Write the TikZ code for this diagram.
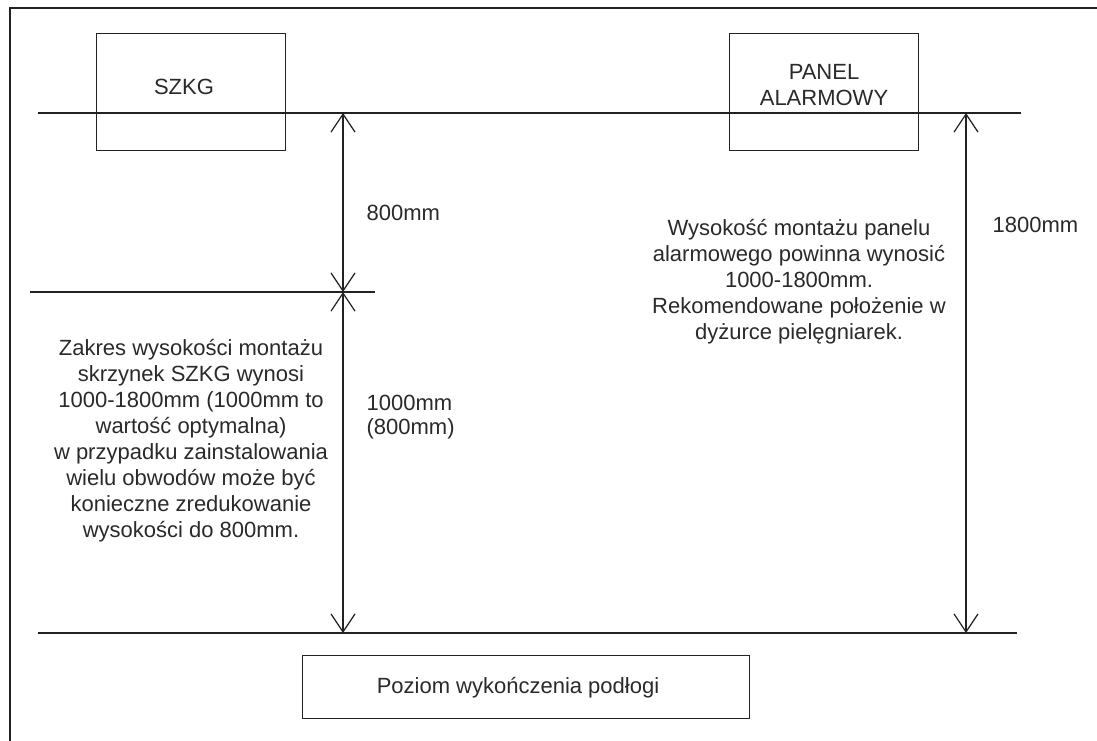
\documentclass[tikz,border=0pt]{standalone}
\usepackage{fontspec}
\setmainfont{Liberation Sans}
\usetikzlibrary{arrows.meta}
\definecolor{ink}{HTML}{222222}
\definecolor{txt}{HTML}{2A2A2A}
\begin{document}
\begin{tikzpicture}[x=1pt,y=-1pt,line width=1.2pt,draw=ink,
  lbl/.style={text=txt,font=\fontsize{22}{26}\selectfont,inner sep=0pt},
  box/.style={draw=ink,line width=1.2pt,anchor=north west,inner sep=0pt},
  barb/.tip={Straight Barb[length=18pt,width=24pt]},
  dim/.style={draw=ink,barb-barb}]
\useasboundingbox (0,0) rectangle (1097,740);
\fill[white] (0,0) rectangle (1097,740);
% frame (cropped)
\coordinate (fbl) at (10,742);
\coordinate (ftl) at (10,8);
\coordinate (ftr) at (1099,8);
\draw (fbl) -- (ftl) -- (ftr);
% boxes
\node[box,minimum width=189pt,minimum height=117pt] (szkg) at (96,33) {};
\node[lbl] (szkgt) at (184,87) {SZKG};
\node[box,minimum width=189pt,minimum height=117pt] (panel) at (729,33) {};
\node[lbl,align=center,font=\fontsize{22}{25.5}\selectfont] (panelt) at (824,85) {PANEL\\ALARMOWY};
\node[box,minimum width=447pt,minimum height=63pt] (floor) at (302,655) {};
\node[lbl] (floort) at (518,688) {Poziom wykończenia podłogi};
% horizontal lines
\coordinate (t1) at (38,113);  \coordinate (t2) at (1021,113);
\coordinate (m1) at (30,292);  \coordinate (m2) at (375,292);
\coordinate (b1) at (38,633);  \coordinate (b2) at (1017,633);
\draw (t1) -- (t2);
\draw (m1) -- (m2);
\draw (b1) -- (b2);
% dimension arrows
\coordinate (a1) at (343,113);
\coordinate (a2) at (343,292);
\coordinate (a3) at (343,633);
\coordinate (r1) at (966,113);
\coordinate (r2) at (966,633);
\draw[dim] (a1) -- (a2);
\draw[dim] (a2) -- (a3);
\draw[dim] (r1) -- (r2);
% labels
\node[lbl,anchor=west] (l800) at (366,213) {800mm};
\node[lbl,anchor=west,align=left,font=\fontsize{22}{24}\selectfont] (l1000) at (366,417) {1000mm\\(800mm)};
\node[lbl,anchor=west] (l1800) at (992,225) {1800mm};
\node[lbl,align=center] (ltxt) at (191,441) {Zakres wysokości montażu\\skrzynek SZKG wynosi\\1000-1800mm (1000mm to\\wartość optymalna)\\w przypadku zainstalowania\\wielu obwodów może być\\konieczne zredukowanie\\wysokości do 800mm.};
\node[lbl,align=center] (rtxt) at (799,282) {Wysokość montażu panelu\\alarmowego powinna wynosić\\1000-1800mm.\\Rekomendowane położenie w\\dyżurce pielęgniarek.};
\end{tikzpicture}
\end{document}
